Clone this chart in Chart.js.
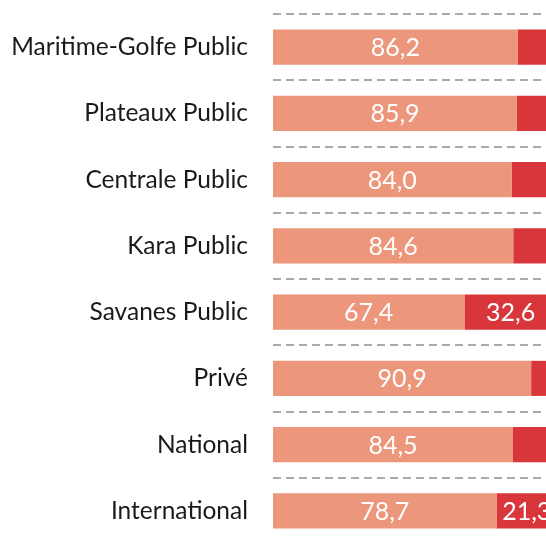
<!DOCTYPE html>
<html>
<head>
<meta charset="utf-8">
<script src="https://cdn.jsdelivr.net/npm/chart.js@4/dist/chart.umd.min.js"></script>
<style>
  html, body { margin: 0; padding: 0; background: #fff; overflow: hidden; width: 546px; height: 540px; }
  #wrap { position: absolute; left: 0; top: 0; width: 557px; height: 544px; }
</style>
</head>
<body>
<div id="wrap"><canvas id="c" width="557" height="544"></canvas></div>
<script>
const categories = ["Maritime-Golfe Public", "Plateaux Public", "Centrale Public", "Kara Public", "Savanes Public", "Privé", "National", "International"];
const seriesA = [86.2, 85.9, 84.0, 84.6, 67.4, 90.9, 84.5, 78.7];
const seriesB = [13.8, 14.1, 16.0, 15.4, 32.6, 9.1, 15.5, 21.3];
const colorA = "#EC967B";
const colorB = "#D8363B";
const FONT = "Lato, 'Open Sans', sans-serif";

const valueLabels = {
  id: "valueLabels",
  afterDatasetsDraw(chart) {
    const ctx = chart.ctx;
    ctx.save();
    ctx.font = "25px " + FONT;
    ctx.fillStyle = "#ffffff";
    ctx.textAlign = "center";
    ctx.textBaseline = "middle";
    chart.data.datasets.forEach((ds, di) => {
      const meta = chart.getDatasetMeta(di);
      meta.data.forEach((bar, i) => {
        const txt = ds.data[i].toFixed(1).replace(".", ",");
        const w = Math.abs(bar.x - bar.base);
        const tw = ctx.measureText(txt).width;
        if (tw + 4 > w) return;
        ctx.fillText(txt, (bar.x + bar.base) / 2, bar.y + 1);
      });
    });
    ctx.restore();
  }
};

new Chart(document.getElementById("c"), {
  type: "bar",
  data: {
    labels: categories,
    datasets: [
      { data: seriesA, backgroundColor: colorA, borderWidth: 0, categoryPercentage: 1, barPercentage: 0.53 },
      { data: seriesB, backgroundColor: colorB, borderWidth: 0, categoryPercentage: 1, barPercentage: 0.53 }
    ]
  },
  options: {
    indexAxis: "y",
    responsive: false,
    animation: false,
    devicePixelRatio: 1,
    layout: { padding: { top: 14, left: 0, right: 0, bottom: 0 } },
    plugins: { legend: { display: false }, tooltip: { enabled: false } },
    scales: {
      x: { stacked: true, min: 0, max: 100, display: false },
      y: {
        stacked: true,
        grid: { offset: true, drawTicks: false, color: "#aaaaaa", lineWidth: 2 },
        border: { display: false, dash: [8, 5] },
        ticks: { padding: 25, color: "#1a1a1a", font: { family: FONT, size: 24.5 } },
        afterFit(scale) { scale.width = 273; scale.paddingTop = 0; scale.paddingBottom = 0; }
      }
    }
  },
  plugins: [valueLabels]
});
</script>
</body>
</html>
